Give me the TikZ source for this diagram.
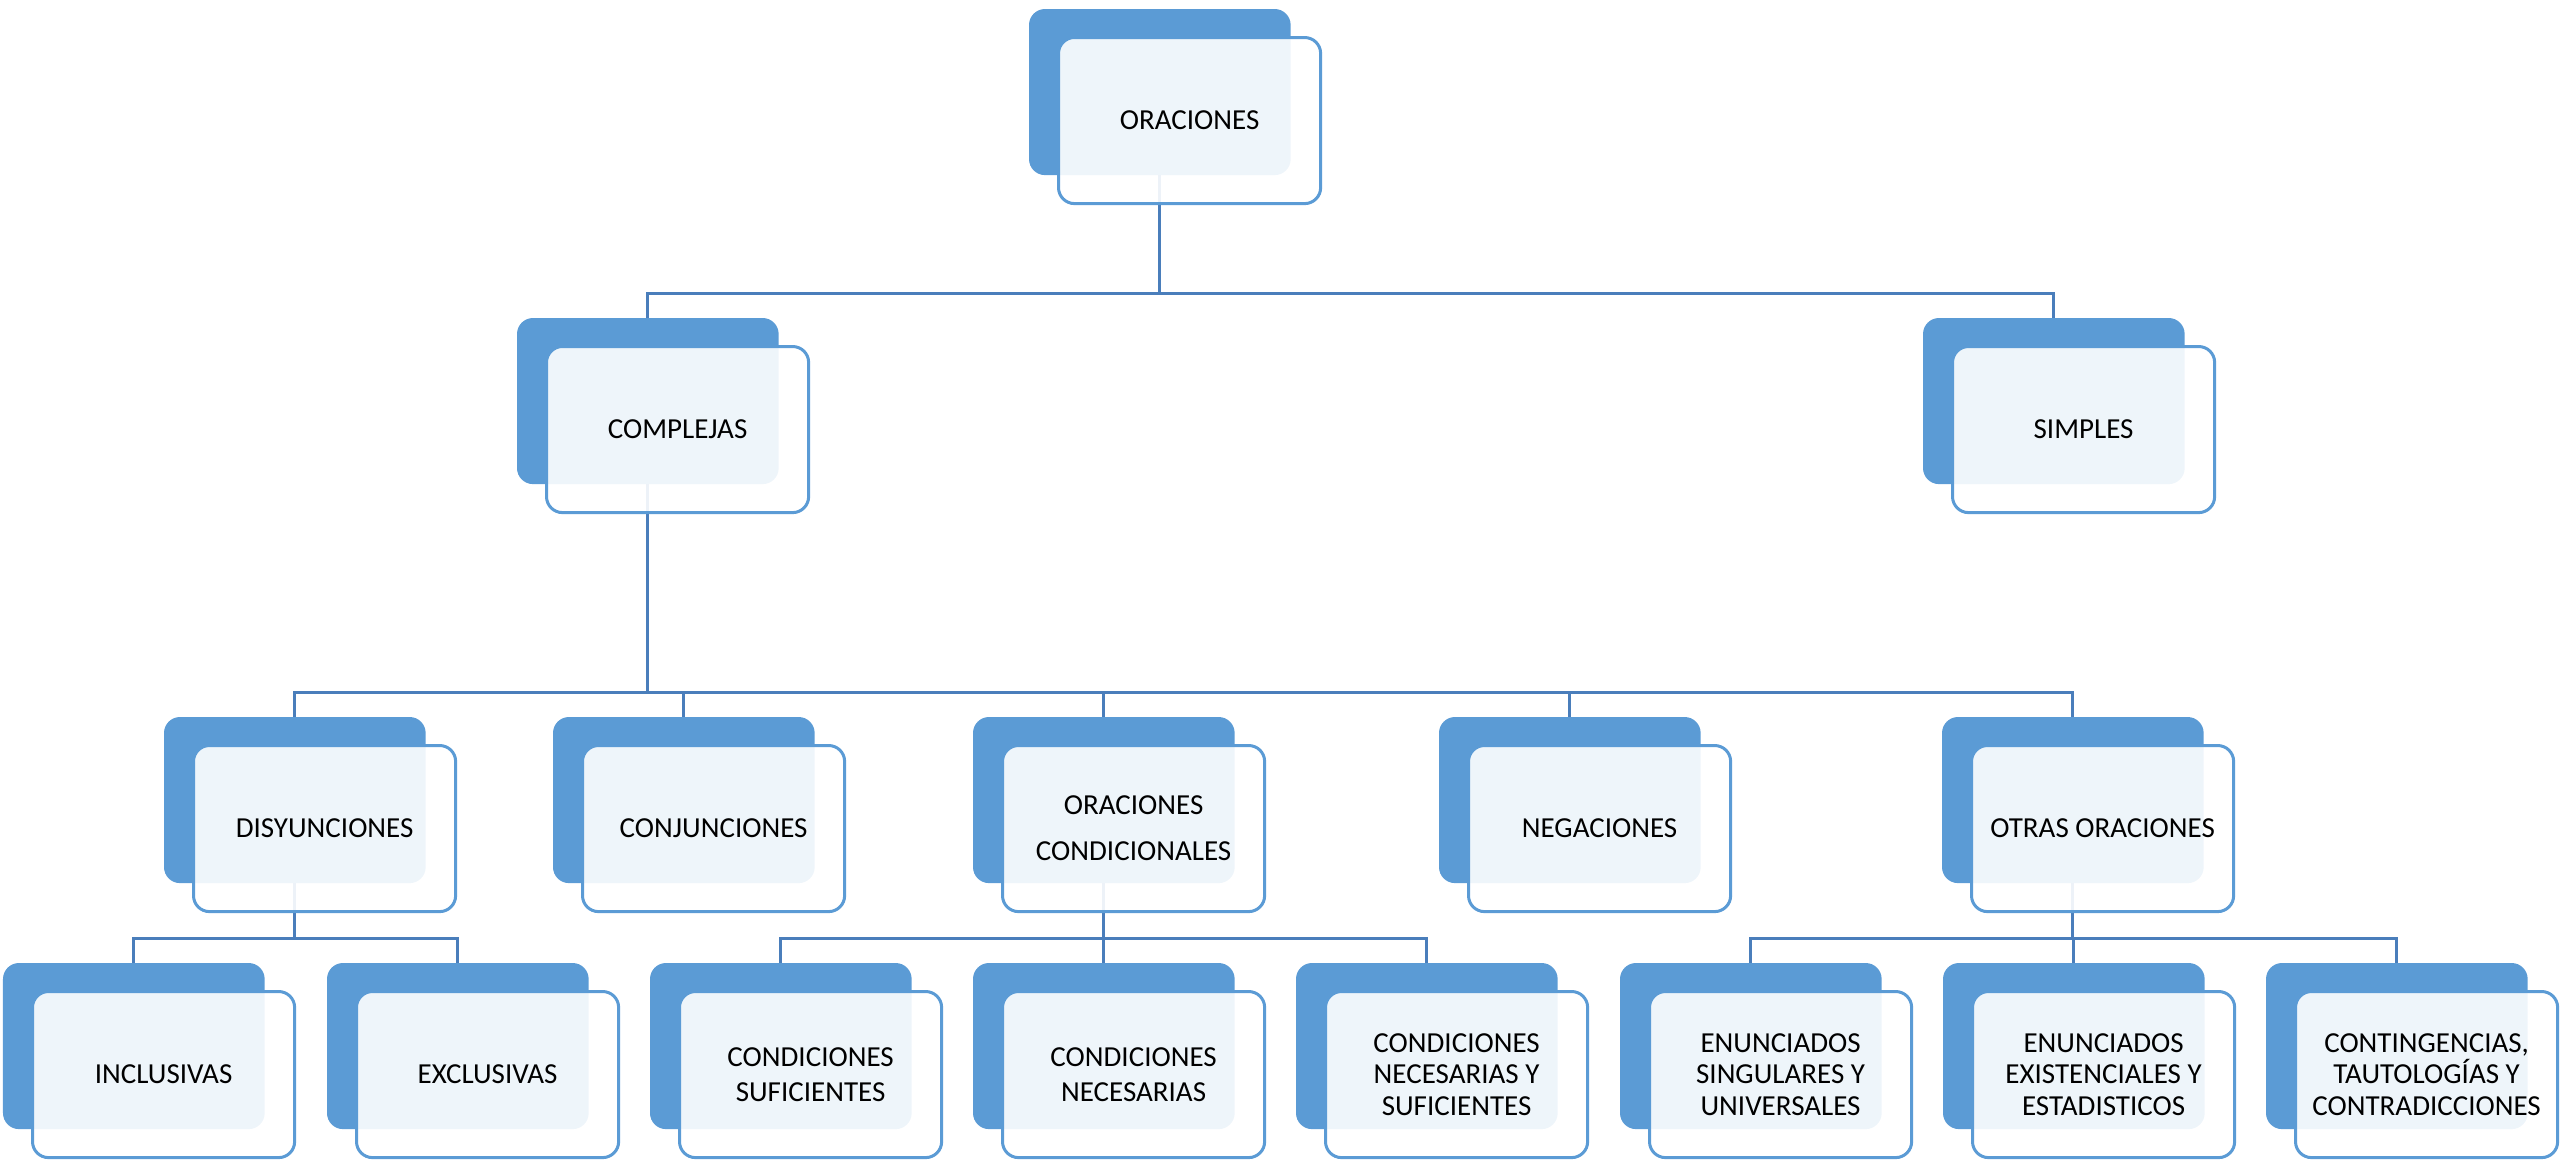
\documentclass[tikz,border=0pt]{standalone}
\usepackage{fontspec}
\setmainfont{Carlito}
\usetikzlibrary{calc}
\definecolor{dblue}{RGB}{91,155,213}
\definecolor{lblue}{RGB}{91,155,213}
\definecolor{cblue}{RGB}{74,126,187}
\begin{document}
\begin{tikzpicture}[x=0.01cm,y=-0.01cm,
  darkbox/.style={fill=dblue, rounded corners=0.16cm, minimum width=2.615cm, minimum height=1.66cm, anchor=north west, inner sep=0pt, outer sep=0pt},
  lightbox/.style={draw=lblue, line width=0.03cm, fill=white, fill opacity=0.9, text opacity=1, rounded corners=0.16cm, minimum width=2.62cm, minimum height=1.66cm, anchor=north west, inner sep=0pt, align=center, font=\fontsize{8.25}{13.1}\selectfont},
  tighttwo/.style={font=\fontsize{8.25}{10}\selectfont},
  tightthree/.style={font=\fontsize{8.25}{9.0}\selectfont},
  conn/.style={draw=cblue, line width=0.03cm}]
\useasboundingbox (0,0) rectangle (2560,1160);

% dark back boxes
\node[darkbox] (or) at (1029,9) {};
\node[darkbox] (co) at (517,318) {};
\node[darkbox] (si) at (1923,318) {};
\node[darkbox] (di) at (164,717) {};
\node[darkbox] (cj) at (553,717) {};
\node[darkbox] (oc) at (973,717) {};
\node[darkbox] (ne) at (1439,717) {};
\node[darkbox] (ot) at (1942,717) {};
\node[darkbox] (in) at (3,963) {};
\node[darkbox] (ex) at (327,963) {};
\node[darkbox] (cs) at (650,963) {};
\node[darkbox] (cn) at (973,963) {};
\node[darkbox] (cns) at (1296,963) {};
\node[darkbox] (es) at (1620,963) {};
\node[darkbox] (ee) at (1943,963) {};
\node[darkbox] (ct) at (2266,963) {};

% connectors
\foreach \p/\c in {or/co, or/si, co/di, co/cj, co/oc, co/ne, co/ot, di/in, di/ex, oc/cs, oc/cn, oc/cns, ot/es, ot/ee, ot/ct}
  \draw[conn] (\p.south) |- ($(\c.north)+(0,-25)$) -- (\c.north);

% light front boxes
\node[lightbox] (orL) at (1057,36) {ORACIONES};
\node[lightbox] (coL) at (545,345) {COMPLEJAS};
\node[lightbox] (siL) at (1951,345) {SIMPLES};
\node[lightbox] (diL) at (192,744) {DISYUNCIONES};
\node[lightbox] (cjL) at (581,744) {CONJUNCIONES};
\node[lightbox] (ocL) at (1001,744) {ORACIONES\\CONDICIONALES};
\node[lightbox] (neL) at (1467,744) {NEGACIONES};
\node[lightbox] (otL) at (1970,744) {OTRAS ORACIONES};
\node[lightbox] (inL) at (31,990) {INCLUSIVAS};
\node[lightbox] (exL) at (355,990) {EXCLUSIVAS};
\node[lightbox, tighttwo] (csL) at (678,990) {CONDICIONES\\SUFICIENTES};
\node[lightbox, tighttwo] (cnL) at (1001,990) {CONDICIONES\\NECESARIAS};
\node[lightbox, tightthree] (cnsL) at (1324,990) {CONDICIONES\\NECESARIAS Y\\SUFICIENTES};
\node[lightbox, tightthree] (esL) at (1648,990) {ENUNCIADOS\\SINGULARES Y\\UNIVERSALES};
\node[lightbox, tightthree] (eeL) at (1971,990) {ENUNCIADOS\\EXISTENCIALES Y\\ESTADISTICOS};
\node[lightbox, tightthree] (ctL) at (2294,990) {CONTINGENCIAS,\\TAUTOLOGÍAS Y\\CONTRADICCIONES};
\end{tikzpicture}
\end{document}
